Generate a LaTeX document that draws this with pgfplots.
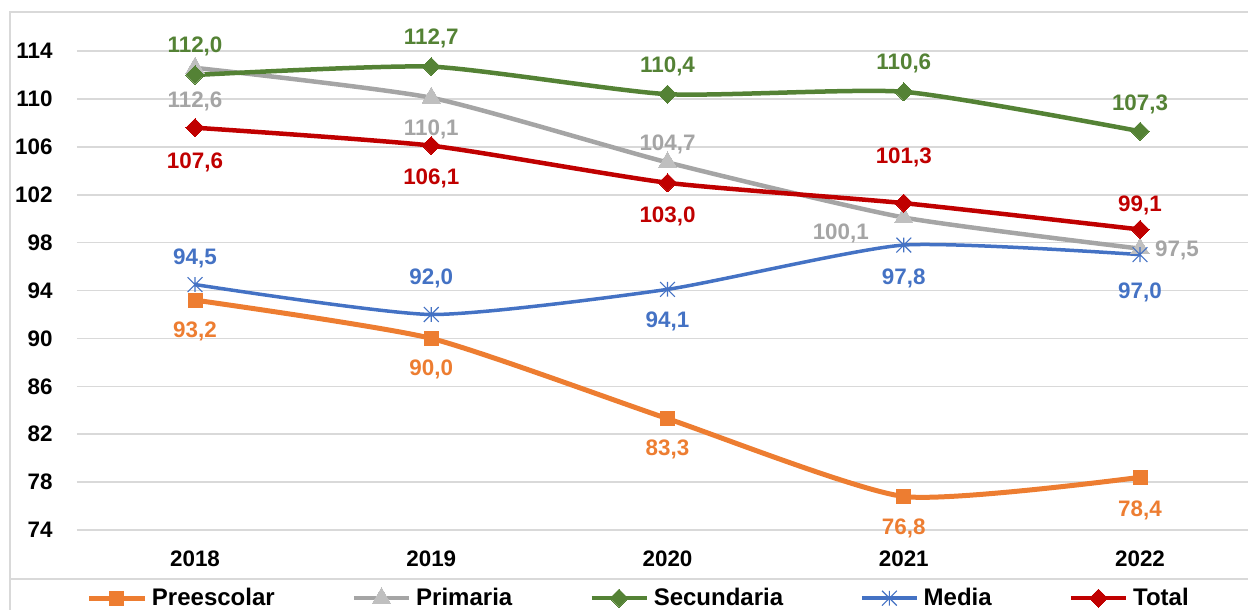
\documentclass[border=0pt]{standalone}
\usepackage{fontspec}
\setmainfont{Liberation Sans}
\usepackage{pgfplots}
\usepackage{pgfplotstable}
\pgfplotsset{compat=1.18}
\definecolor{cOr}{HTML}{ED7D31}
\definecolor{cGy}{HTML}{A5A5A5}
\definecolor{cGyM}{HTML}{BFBFBF}
\definecolor{cGn}{HTML}{548235}
\definecolor{cBl}{HTML}{4472C4}
\definecolor{cRd}{HTML}{C00000}
\definecolor{cGrid}{HTML}{D9D9D9}

\pgfdeclareplotmark{xstar}{%
  \pgfpathmoveto{\pgfqpoint{0pt}{\pgfplotmarksize}}%
  \pgfpathlineto{\pgfqpoint{0pt}{-\pgfplotmarksize}}%
  \pgfpathmoveto{\pgfqpoint{-\pgfplotmarksize}{\pgfplotmarksize}}%
  \pgfpathlineto{\pgfqpoint{\pgfplotmarksize}{-\pgfplotmarksize}}%
  \pgfpathmoveto{\pgfqpoint{-\pgfplotmarksize}{-\pgfplotmarksize}}%
  \pgfpathlineto{\pgfqpoint{\pgfplotmarksize}{\pgfplotmarksize}}%
  \pgfusepathqstroke}

\pgfplotstableread{
x y dx dy
0 93.2 0 -15
1 90.0 0 -14.5
2 83.3 0 -14.5
3 76.8 0 -15
4 78.4 0 -15.5
}\tPre
\pgfplotstableread{
x y dx dy
0 112.6 0 -16
1 110.1 0 -15
2 104.7 0 10
3 100.1 -31.5 -7
4 97.5 18.5 0
}\tPri
\pgfplotstableread{
x y dx dy
0 112.0 0 15
1 112.7 0 15
2 110.4 0 14.5
3 110.6 0 15
4 107.3 0 14.5
}\tSec
\pgfplotstableread{
x y dx dy
0 94.5 0 14
1 92.0 0 19
2 94.1 0 -15
3 97.8 0 -16
4 97.0 0 -18
}\tMed
\pgfplotstableread{
x y dx dy
0 107.6 0 -16.5
1 106.1 0 -15.5
2 103.0 0 -16
3 101.3 0 23.5
4 99.1 0 13
}\tTot

\pgfplotsset{
  lbl/.style={
    point meta=y,
    visualization depends on={\thisrow{dx}\as\mydx},
    visualization depends on={\thisrow{dy}\as\mydy},
    nodes near coords={\pgfmathprintnumber[fixed,fixed zerofill,precision=1,use comma,assume math mode=true]{\pgfplotspointmeta}},
    every node near coord/.append style={anchor=center, xshift=\mydx pt, yshift=\mydy pt, text depth=0pt, inner sep=0pt,
      font=\fontsize{11.2}{13}\selectfont#1},
  },
}

\begin{document}
\begin{tikzpicture}
\useasboundingbox (0,0) rectangle (624pt,305pt);
\draw[cGrid, line width=0.75pt] (5pt,-2pt) -- (5pt,299pt) -- (640pt,299pt);
\draw[cGrid, line width=0.75pt] (5pt,15.5pt) -- (640pt,15.5pt);
\begin{axis}[
  at={(38.45pt,28.02pt)}, anchor=south west,
  scale only axis, width=585.55pt, height=269.4pt,
  xmin=-0.5, xmax=4.457, ymin=72, ymax=117,
  xtick={0,1,2,3,4}, xticklabels={2018,2019,2020,2021,2022},
  ytick={74,78,...,114},
  axis line style={draw=none}, major tick length=0pt,
  ymajorgrids, grid style={color=cGrid, line width=0.75pt},
  tick label style={font=\fontsize{11.2}{13}\selectfont\bfseries},
  xticklabel style={anchor=base, yshift=-6.5pt},
  yticklabel style={anchor=east, inner sep=0pt, xshift=-12pt},
  /pgf/number format/assume math mode=true,
  clip=false,
  every axis plot/.append style={smooth, tension=0.35},
  legend columns=5,
  legend style={at={(0.0086,-0.0817)}, anchor=west, draw=none, fill=none,
    inner sep=0pt, outer sep=0pt,
    font=\fontsize{12}{14}\selectfont\bfseries,
    nodes={inner xsep=2.5pt, inner ysep=0pt},
    /tikz/every even column/.append style={column sep=36pt}},
  legend image code/.code={\draw[mark repeat=2,mark phase=2] plot coordinates {(0pt,0pt)(13.75pt,0pt)(27.5pt,0pt)};},
]
\addplot[cOr, line width=2.5pt, mark=square*, mark size=3.5pt, mark options={solid, fill=cOr, draw=cOr, line width=0pt},
  lbl={\bfseries\color{cOr}}] table[x=x,y=y] {\tPre};
\addlegendentry{Preescolar}
\addplot[cGy, line width=2.25pt, mark=triangle*, mark size=5.3pt, mark options={solid, fill=cGyM, draw=cGyM, line width=0pt},
  lbl={\bfseries\color{cGy}}] table[x=x,y=y] {\tPri};
\addlegendentry{Primaria}
\addplot[cGn, line width=2.25pt, mark=square*, mark size=3.2pt, mark options={solid, rotate=45, fill=cGn, draw=cGn, line width=0pt},
  lbl={\bfseries\color{cGn}}] table[x=x,y=y] {\tSec};
\addlegendentry{Secundaria}
\addplot[cBl, line width=1.75pt, mark=xstar, mark size=3.7pt, mark options={solid, draw=cBl, line width=0.55pt},
  lbl={\bfseries\color{cBl}}] table[x=x,y=y] {\tMed};
\addlegendentry{Media}
\addplot[cRd, line width=2.25pt, mark=square*, mark size=3.2pt, mark options={solid, rotate=45, fill=cRd, draw=cRd, line width=0pt},
  lbl={\bfseries\color{cRd}}] table[x=x,y=y] {\tTot};
\addlegendentry{Total}
\end{axis}
\end{tikzpicture}
\end{document}
